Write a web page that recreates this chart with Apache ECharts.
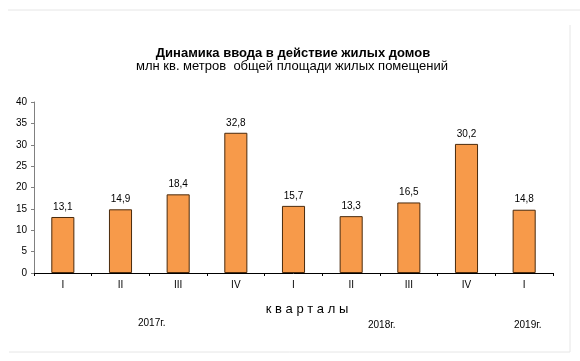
<!DOCTYPE html>
<html><head><meta charset="utf-8">
<script src="https://cdn.jsdelivr.net/npm/echarts@6/dist/echarts.min.js"></script>
<style>html,body{margin:0;padding:0;background:#fff}#c{width:580px;height:361px}</style>
</head><body><div id="c"></div>
<script>
var categories = ['I','II','III','IV','I','II','III','IV','I'];
var values = [13.1, 14.9, 18.4, 32.8, 15.7, 13.3, 16.5, 30.2, 14.8];
var yTicks = [0,5,10,15,20,25,30,35,40];
var years = ['2017г.', '2018г.', '2019г.'];
var titleText = 'Динамика ввода в действие жилых домов';
var subtitleText = 'млн кв. метров  общей площади жилых помещений';
var axisName = 'к в а р т а л ы';

var F = '"Liberation Sans", Arial, sans-serif';
var chart = echarts.init(document.getElementById('c'), null, {renderer:'canvas'});
chart.setOption({
  animation: false,
  backgroundColor: '#fff',
  title: [
    {text: titleText, left: 288, top: 42, textAlign: 'center',
     textStyle:{fontFamily:F, fontSize:13, fontWeight:'bold', color:'#000'}},
    {text: subtitleText, left: 287, top: 55, textAlign: 'center',
     textStyle:{fontFamily:F, fontSize:13, fontWeight:'normal', color:'#000'}}
  ],
  grid: {left: 34, right: 27, top: 102, bottom: 88, containLabel:false},
  xAxis: {
    type:'category', data: categories,
    axisLine:{show:true, lineStyle:{color:'#000', width:1}},
    axisTick:{show:true, length:3, lineStyle:{color:'#000'}},
    axisLabel:{fontFamily:F, fontSize:10, color:'#000', margin:7},
    name: axisName, nameLocation:'middle', nameGap:30,
    nameTextStyle:{fontFamily:F, fontSize:13, color:'#000', padding:[0,0,0,27]}
  },
  yAxis: {
    type:'value', min:0, max:40, interval:5,
    axisLine:{show:true, lineStyle:{color:'#808080'}},
    axisTick:{show:true, length:3, lineStyle:{color:'#808080'}},
    axisLabel:{fontFamily:F, fontSize:10, color:'#000', margin:7},
    splitLine:{show:false}
  },
  series: [{
    type:'bar', data: values, barWidth:'40%',
    itemStyle:{color:'#f79a4a', borderColor:'#4a2a0c', borderWidth:1},
    label:{show:true, position:'top', distance:5, fontFamily:F, fontSize:10, color:'#000',
      formatter:function(p){return String(p.value).replace('.', ',');}}
  }],
  graphic: [
    {type:'line', shape:{x1:8,y1:10,x2:580,y2:10}, style:{stroke:'#e6e6e6', lineWidth:1}},
    {type:'line', shape:{x1:570,y1:25,x2:570,y2:352}, style:{stroke:'#e6e6e6', lineWidth:1}},
    {type:'line', shape:{x1:9,y1:352,x2:570,y2:352}, style:{stroke:'#e6e6e6', lineWidth:1}},
    {type:'text', left:138, top:318, style:{text:years[0], font:'10px '+F, fill:'#000'}},
    {type:'text', left:368, top:320, style:{text:years[1], font:'10px '+F, fill:'#000'}},
    {type:'text', left:514, top:320, style:{text:years[2], font:'10px '+F, fill:'#000'}}
  ]
});
</script></body></html>
